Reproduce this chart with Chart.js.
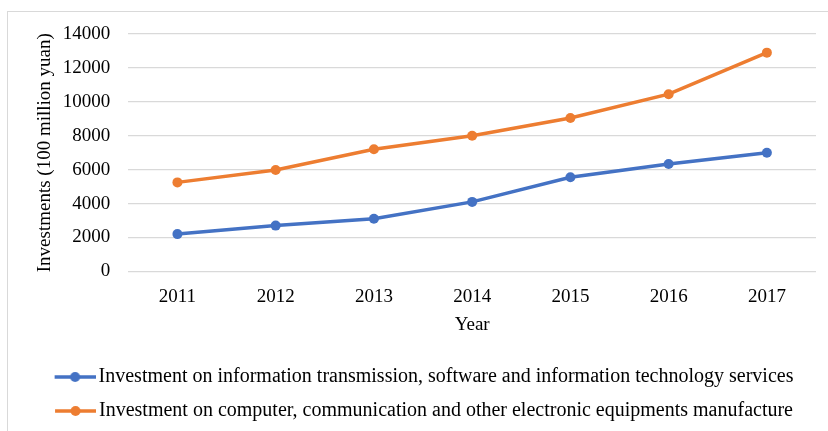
<!DOCTYPE html>
<html>
<head>
<meta charset="utf-8">
<script src="https://cdn.jsdelivr.net/npm/chart.js@4.4.1/dist/chart.umd.min.js"></script>
<style>
  html, body { margin: 0; padding: 0; background: #fff; overflow: hidden; }
  #wrap { position: relative; width: 828px; height: 431px; }
  #frame { position: absolute; left: 7px; top: 11px; width: 840px; height: 440px; border: 1px solid #d9d9d9; box-sizing: border-box; }
  canvas { position: absolute; left: 0; top: 0; }
</style>
</head>
<body>
<div id="wrap">
  <div id="frame"></div>
  <canvas id="c" width="828" height="431"></canvas>
</div>
<script>
const years = ['2011', '2012', '2013', '2014', '2015', '2016', '2017'];
const itServices = [2200, 2700, 3100, 4100, 5550, 6330, 7000];
const electronicsMfg = [5250, 5980, 7200, 8000, 9050, 10450, 12900];
const seriesNames = [
  'Investment on information transmission, software and information technology services',
  'Investment on computer, communication and other electronic equipments manufacture'
];
const seriesColors = ['#4472C4', '#ED7D31'];
const yTitle = 'Investments (100 million yuan)';
const xTitle = 'Year';

const FONT = "'Liberation Serif', 'Times New Roman', serif";

function legendMarker(color) {
  const cv = document.createElement('canvas');
  cv.width = 50; cv.height = 12;
  const ctx = cv.getContext('2d');
  ctx.strokeStyle = color; ctx.lineWidth = 3.5; ctx.lineCap = 'butt';
  ctx.beginPath(); ctx.moveTo(9, 6); ctx.lineTo(50, 6); ctx.stroke();
  ctx.fillStyle = color;
  ctx.beginPath(); ctx.arc(29.5, 6, 5, 0, Math.PI * 2); ctx.fill();
  return cv;
}

const datasets = [itServices, electronicsMfg].map((vals, i) => ({
  label: seriesNames[i],
  data: vals,
  borderColor: seriesColors[i],
  backgroundColor: seriesColors[i],
  borderWidth: 3.5,
  pointRadius: 5,
  pointHoverRadius: 5,
  pointBackgroundColor: seriesColors[i],
  pointBorderColor: seriesColors[i],
  pointBorderWidth: 0,
  tension: 0,
  fill: false,
  pointStyle: 'circle',
  legendImg: legendMarker(seriesColors[i])
}));

new Chart(document.getElementById('c'), {
  type: 'line',
  data: { labels: years, datasets },
  options: {
    responsive: false,
    animation: false,
    devicePixelRatio: 1,
    layout: { padding: { left: 30, right: 12, top: 34, bottom: 0 } },
    plugins: {
      tooltip: { enabled: false },
      legend: {
        position: 'bottom',
        labels: {
          usePointStyle: true,
          pointStyleWidth: 36,
          padding: 14,
          color: '#000',
          font: { family: FONT, size: 20 },
          generateLabels(chart) {
            return chart.data.datasets.map((ds, i) => ({
              text: ds.label,
              pointStyle: ds.legendImg,
              fillStyle: ds.borderColor,
              strokeStyle: ds.borderColor,
              lineWidth: 0,
              fontColor: '#000',
              hidden: false,
              datasetIndex: i
            }));
          }
        }
      }
    },
    scales: {
      x: {
        offset: true,
        grid: { display: false, drawTicks: false },
        border: { display: false },
        ticks: { color: '#000', padding: 14, font: { family: FONT, size: 19 } },
        title: { display: true, text: xTitle, color: '#000', font: { family: FONT, size: 19 }, padding: { top: -9, bottom: 17 } }
      },
      y: {
        min: 0, max: 14000,
        grid: { color: '#d9d9d9', lineWidth: 1.3, drawTicks: false },
        border: { display: false },
        ticks: { stepSize: 2000, color: '#000', padding: 18, font: { family: FONT, size: 19 }, callback: v => String(v) },
        title: { display: true, text: yTitle, color: '#000', font: { family: FONT, size: 19 }, padding: { top: 4, bottom: -12 } }
      }
    }
  }
});
</script>
</body>
</html>
